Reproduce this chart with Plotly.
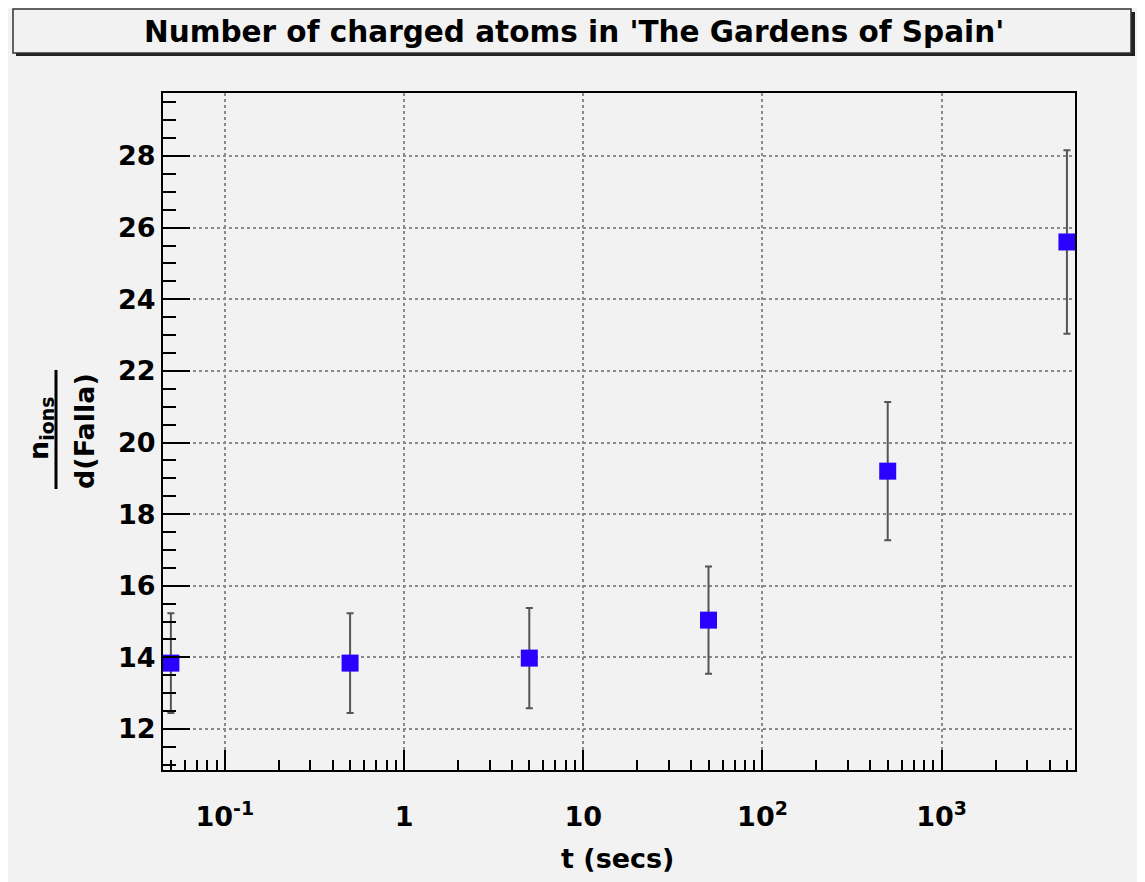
import plotly.graph_objects as go

# ---- data ----
t_secs = [0.05, 0.5, 5, 50, 500, 5000]
n_ions = [13.84, 13.84, 13.98, 15.04, 19.2, 25.6]
n_err = [1.39, 1.39, 1.40, 1.50, 1.93, 2.56]
x_tick_vals = [0.1, 1, 10, 100, 1000]
x_tick_text = ["10<sup>-1</sup>", "1", "10", "10<sup>2</sup>", "10<sup>3</sup>"]
y_tick_vals = [12, 14, 16, 18, 20, 22, 24, 26, 28]

# ---- layout geometry (screenshot pixels) ----
OX, OY = 8, 8            # page offset of the figure
W, H = 1145 - OX, 882 - OY
PL, PR, PT, PB = 163, 1075, 93, 770   # plot area in screenshot px
ml, mr, mt, mb = PL - OX, (OX + W) - PR, PT - OY, (OY + H) - PB
pw, ph = PR - PL, PB - PT

def xp(px):
    return (px - PL) / pw

def yp(py):
    return (PB - py) / ph

BG = "#f2f2f2"
FONT = "DejaVu Sans"

fig = go.Figure()
fig.add_trace(go.Scatter(
    x=t_secs, y=n_ions, mode="markers",
    marker=dict(symbol="square", size=17, color="#2a00ff", line=dict(width=0)),
    error_y=dict(type="data", array=n_err, color="#555555", thickness=2, width=3.5),
    showlegend=False,
))

axis_font = dict(family=FONT, size=27, color="black", weight="bold")

fig.update_xaxes(
    type="log", range=[-1.345, 3.744],
    tickmode="array", tickvals=x_tick_vals, ticktext=x_tick_text,
    ticks="inside", ticklen=20, tickwidth=2, tickcolor="black",
    minor=dict(ticks="inside", ticklen=10, tickwidth=1.5, tickcolor="black",
               dtick="D1", showgrid=False),
    showline=True, linecolor="black", linewidth=2, mirror=True,
    showgrid=True, gridcolor="#8a8a8a", gridwidth=1.5, griddash="dot",
    tickfont=axis_font, ticklabelstandoff=22, zeroline=False,
)
fig.update_yaxes(
    range=[10.855, 29.76],
    tickmode="array", tickvals=y_tick_vals,
    ticks="inside", ticklen=27, tickwidth=2, tickcolor="black",
    minor=dict(ticks="inside", ticklen=13, tickwidth=1.5, tickcolor="black",
               dtick=0.5, showgrid=False),
    showline=True, linecolor="black", linewidth=2, mirror=True,
    showgrid=True, gridcolor="#8a8a8a", gridwidth=1.5, griddash="3px,3px",
    tickfont=axis_font, ticklabelstandoff=0, zeroline=False,
)

shapes = [
    # title box shadow
    dict(type="rect", xref="paper", yref="paper", layer="above",
         x0=xp(16), x1=xp(1135), y0=yp(56), y1=yp(12),
         fillcolor="#222222", line=dict(width=0)),
    # title box
    dict(type="rect", xref="paper", yref="paper", layer="above",
         x0=xp(13), x1=xp(1131), y0=yp(53), y1=yp(9),
         fillcolor=BG, line=dict(color="#333333", width=1.5)),
    # fraction bar of the y title
    dict(type="line", xref="paper", yref="paper",
         x0=xp(56), x1=xp(56), y0=yp(370), y1=yp(489),
         line=dict(color="black", width=3)),
]

annotations = [
    dict(text="Number of charged atoms in 'The Gardens of Spain'",
         xref="paper", yref="paper", x=xp(574), y=yp(32),
         xanchor="center", yanchor="middle", showarrow=False,
         font=dict(family=FONT, size=29.5, color="black", weight="bold")),
    dict(text="t (secs)", xref="paper", yref="paper", x=xp(617), y=yp(858),
         xanchor="center", yanchor="middle", showarrow=False,
         font=dict(family=FONT, size=27, color="black", weight="bold")),
    dict(text="n<sub>ions</sub>", xref="paper", yref="paper", x=xp(40), y=yp(429),
         xanchor="center", yanchor="middle", showarrow=False, textangle=-90,
         font=dict(family=FONT, size=27, color="black", weight="bold")),
    dict(text="d(Falla)", xref="paper", yref="paper", x=xp(85), y=yp(431),
         xanchor="center", yanchor="middle", showarrow=False, textangle=-90,
         font=dict(family=FONT, size=27, color="black", weight="bold")),
]

fig.update_layout(
    width=W, height=H, autosize=False,
    margin=dict(l=ml, r=mr, t=mt, b=mb, pad=0),
    paper_bgcolor=BG, plot_bgcolor=BG,
    shapes=shapes, annotations=annotations,
    font=dict(family=FONT),
)

fig.write_html("out.html")
